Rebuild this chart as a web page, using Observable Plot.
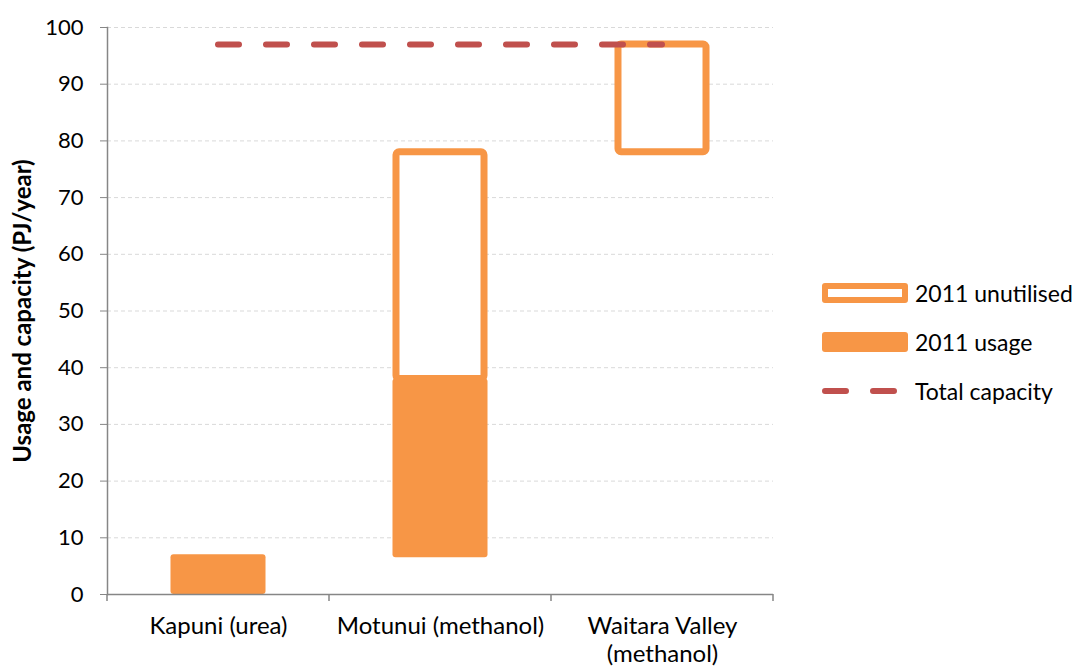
<!DOCTYPE html>
<html>
<head>
<meta charset="utf-8">
<script src="https://cdn.jsdelivr.net/npm/d3@7"></script>
<script src="https://cdn.jsdelivr.net/npm/@observablehq/plot@0.6"></script>
<style>
  html, body { margin: 0; padding: 0; background: #fff; }
  #wrap { position: relative; width: 1075px; height: 666px; font-family: Lato, "Open Sans", sans-serif; overflow: hidden; }
  #legend { position: absolute; left: 822px; top: 280px; font-size: 23px; color: #000; }
  .row { position: absolute; left: 0; height: 20px; display: flex; align-items: center; white-space: nowrap; }
  .row .sw { width: 86px; height: 20px; box-sizing: border-box; border-radius: 3px; margin-right: 7px; flex: none; }
  .row svg { margin-right: 7px; flex: none; }
</style>
</head>
<body>
<div id="wrap"></div>
<script>
// ---- data ----
const categories = ["Kapuni (urea)", "Motunui (methanol)", "Waitara Valley\n(methanol)"];
const usageLow = [0, 6.5, null];
const usageHigh = [7, 38, null];
const unutilisedLow = [null, 38, 78];
const unutilisedHigh = [null, 78, 97];
const totalCapacity = 97;
const yTicks = [0, 10, 20, 30, 40, 50, 60, 70, 80, 90, 100];
const seriesNames = ["2011 unutilised", "2011 usage", "Total capacity"];
const yLabel = "Usage and capacity (PJ/year)";

const orange = "#F79646";
const red = "#C0504D";
const half = 0.214;

const usage = categories.map((c, i) => ({i, lo: usageLow[i], hi: usageHigh[i]})).filter(d => d.lo != null);
const unutil = categories.map((c, i) => ({i, lo: unutilisedLow[i], hi: unutilisedHigh[i]})).filter(d => d.lo != null);
const capacity = [{x1: 0.5, x2: categories.length - 0.5, y: totalCapacity}];
const bounds = d3.range(categories.length + 1);

const chart = Plot.plot({
  width: 1075,
  height: 666,
  marginLeft: 107,
  marginRight: 302,
  marginTop: 27,
  marginBottom: 72,
  style: {fontFamily: "Lato, 'Open Sans', sans-serif", fontSize: "19px", color: "#000", background: "#fff", overflow: "visible"},
  x: {domain: [0, categories.length], axis: null},
  y: {domain: [0, 100], axis: null},
  marks: [
    Plot.gridY(yTicks.filter(t => t > 0), {stroke: "#D9D9D9", strokeOpacity: 1, strokeDasharray: "4,3", strokeWidth: 1}),
    Plot.rect(unutil, {x1: d => d.i + 0.5 - half, x2: d => d.i + 0.5 + half, y1: "lo", y2: "hi",
      fill: "white", stroke: orange, strokeWidth: 7, insetLeft: 3.5, insetRight: 3.5, rx: 3}),
    Plot.rect(usage, {x1: d => d.i + 0.5 - half, x2: d => d.i + 0.5 + half, y1: "lo", y2: "hi",
      fill: orange, rx: 3}),
    Plot.ruleY(capacity, {x1: "x1", x2: "x2", y: "y", stroke: red, strokeWidth: 6,
      strokeDasharray: "21,27", strokeLinecap: "round"}),
    Plot.ruleY([0], {stroke: "#868686", strokeWidth: 1.5}),
    Plot.frame({anchor: "left", stroke: "#868686", strokeWidth: 1.5}),
    Plot.axisY({ticks: yTicks, tickSize: 7, tickPadding: 17, stroke: "#868686", tickFormat: d => d, fontSize: 22, label: null}),
    Plot.axisX({ticks: categories.map((c, i) => i + 0.5), tickSize: 0, tickPadding: 20,
      tickFormat: (d) => categories[Math.round(d - 0.5)], fontSize: 24, label: null, lineHeight: 1.15}),
    Plot.text([yLabel], {frameAnchor: "left", dx: -84, rotate: -90, textAnchor: "middle", fontWeight: "bold", fontSize: 24})
  ]
});

const wrap = document.getElementById("wrap");
wrap.appendChild(chart);

// downward ticks at category boundaries, placed through the chart's scales
const xs = chart.scale("x"), ys = chart.scale("y");
d3.select(chart).append("g").selectAll("line").data(bounds).join("line")
  .attr("x1", d => xs.apply(d)).attr("x2", d => xs.apply(d))
  .attr("y1", ys.apply(0)).attr("y2", ys.apply(0) + 7)
  .attr("stroke", "#868686").attr("stroke-width", 1.5);

// legend
const legend = document.createElement("div");
legend.id = "legend";
legend.innerHTML = `
  <div class="row" style="top:3px"><div class="sw" style="border:6px solid ${orange};background:#fff"></div>${seriesNames[0]}</div>
  <div class="row" style="top:52px"><div class="sw" style="background:${orange}"></div>${seriesNames[1]}</div>
  <div class="row" style="top:101px"><svg width="86" height="20"><line x1="3" x2="83" y1="10" y2="10" stroke="${red}" stroke-width="6" stroke-linecap="round" stroke-dasharray="21,27"/></svg>${seriesNames[2]}</div>`;
wrap.appendChild(legend);
</script>
</body>
</html>
